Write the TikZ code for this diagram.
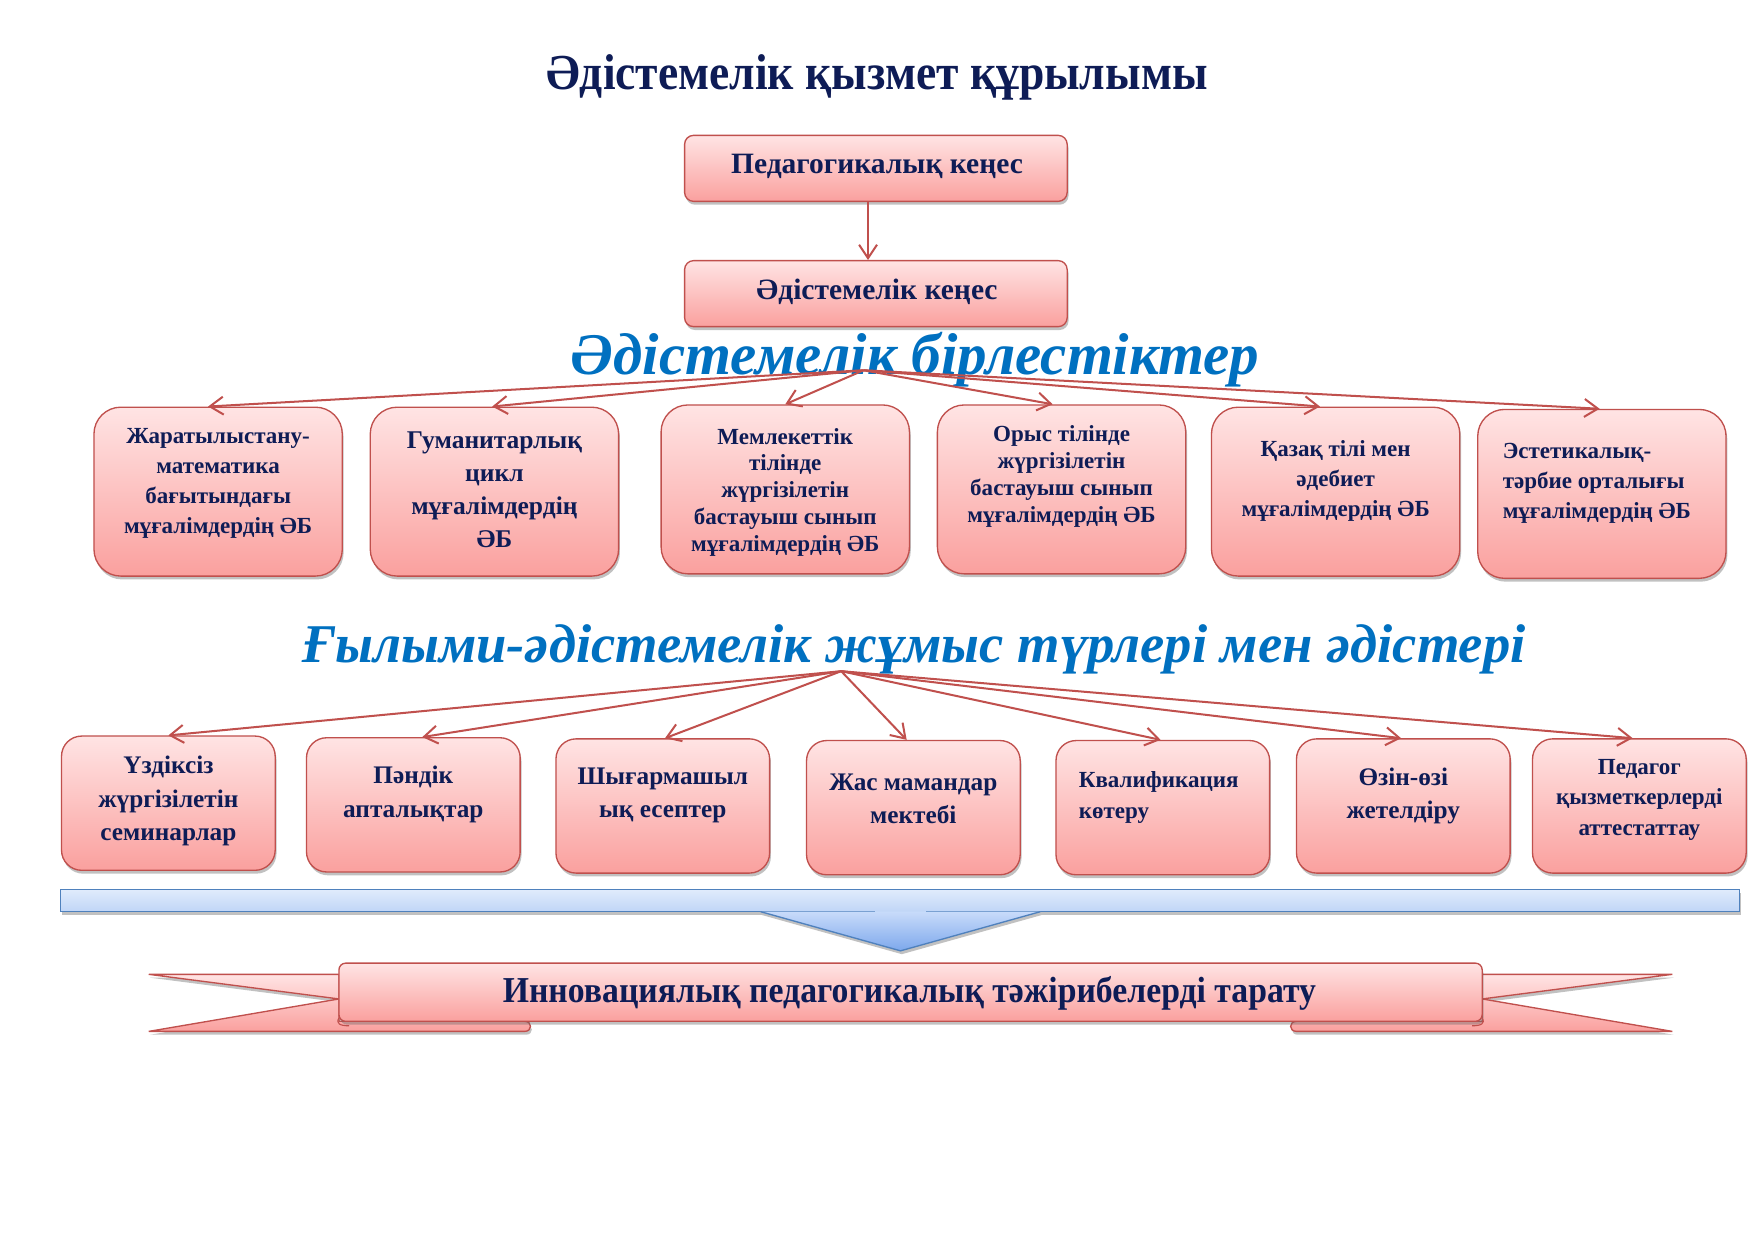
\documentclass[tikz,border=0pt]{standalone}
\usepackage{fontspec}
\setmainfont{Liberation Serif}
\usetikzlibrary{arrows.meta,shadows,calc}
\definecolor{navy}{RGB}{14,28,86}
\definecolor{hblue}{RGB}{0,112,192}
\definecolor{redln}{RGB}{192,80,77}
\definecolor{pinktop}{RGB}{255,228,228}
\definecolor{pinkbot}{RGB}{250,160,158}
\definecolor{bluetop}{RGB}{224,236,252}
\definecolor{bluebot}{RGB}{192,213,247}
\definecolor{tritop}{RGB}{200,219,250}
\definecolor{tribot}{RGB}{125,168,236}
\definecolor{blueln}{RGB}{79,129,189}
\begin{document}
\begin{tikzpicture}[x=0.5pt,y=-0.5pt,
  shad/.style={drop shadow={shadow xshift=0.6pt,shadow yshift=-1.5pt,opacity=0.4,fill=black!60}},
  pbox/.style={draw=redln,line width=0.6pt,top color=pinktop,bottom color=pinkbot,shad,inner sep=0pt},
  topbox/.style={pbox,rounded corners=4pt,minimum width=171pt,minimum height=29.5pt},
  rowone/.style={pbox,rounded corners=12pt,minimum width=111pt,minimum height=75.5pt},
  rowtwo/.style={pbox,rounded corners=9pt,minimum width=95.5pt,minimum height=60pt},
  btxt/.style={text=navy,align=center,inner sep=0pt,font=\bfseries\fontsize{10.3}{13.5}\selectfont},
  btxtb/.style={btxt,font=\bfseries\fontsize{11.4}{14.7}\selectfont},
  btxtc/.style={btxt,font=\bfseries\fontsize{10.3}{12}\selectfont},
  stxt/.style={btxt,font=\bfseries\fontsize{11.3}{15}\selectfont},
  heading/.style={text=hblue,inner sep=0pt,anchor=base,font=\bfseries\itshape\fontsize{26.4}{30}\selectfont},
  conn/.style={draw=redln,line width=0.9pt,-{Straight Barb[length=6pt,width=8pt,line width=0.9pt]}},
  ribfill/.style={draw=redln,line width=0.6pt,top color=pinktop,bottom color=pinkbot,shad},
]
\useasboundingbox (0,0) rectangle (1568,1109);
\fill[white] (0,0) rectangle (1568,1109);

% title
\node[text=navy,inner sep=0pt,anchor=base,font=\bfseries\fontsize{22.5}{26}\selectfont] (title) at (784,80) {\scalebox{0.905}[1]{Әдістемелік қызмет құрылымы}};

% top boxes
\node[topbox] (pk) at (783,150.5) {};
\node[btxt,font=\bfseries\fontsize{13.2}{16}\selectfont] (pkt) at (784,149) {Педагогикалық кеңес};
\node[topbox] (ak) at (783,262.5) {};
\node[btxt,font=\bfseries\fontsize{13.2}{16}\selectfont] (akt) at (784,261) {Әдістемелік кеңес};
\draw[conn] ([xshift=-3.5pt]pk.south) -- ([xshift=-3.5pt]ak.north);

% heading 1
\node[heading] (h1t) at (818,335) {Әдістемелік бірлестіктер};
\coordinate (hub1) at (772,331);

% row 1
\node[rowone] (b1) at (195,439.5) {};
\node[rowone] (b2) at (442,439.5) {};
\node[rowone] (b3) at (702,437.5) {};
\node[rowone] (b4) at (949,437.5) {};
\node[rowone] (b5) at (1194,439.5) {};
\node[rowone] (b6) at (1432,441.5) {};

\node[btxt] (b1t) at (195,432) {Жаратылыстану-\\математика\\бағытындағы\\мұғалімдердің ӘБ};
\node[btxtb] (b2t) at (442,438) {Гуманитарлық\\цикл\\мұғалімдердің\\ӘБ};
\node[btxtc] (b3t) at (702,440) {Мемлекеттік\\тілінде\\жүргізілетін\\бастауыш сынып\\мұғалімдердің ӘБ};
\node[btxtc] (b4t) at (949,426) {Орыс тілінде\\жүргізілетін\\бастауыш сынып\\мұғалімдердің ӘБ};
\node[btxt] (b5t) at (1194,430) {Қазақ тілі мен\\әдебиет\\мұғалімдердің ӘБ};
\node[btxt,align=left,anchor=west] (b6t) at (1343,432) {Эстетикалық-\\тәрбие орталығы\\мұғалімдердің ӘБ};

\draw[conn] (hub1) -- ([xshift=-4.5pt]b1.north);
\draw[conn] (hub1) -- ([xshift=-1pt]b2.north);
\draw[conn] (hub1) -- (b3.north);
\draw[conn] (hub1) -- ([xshift=-4pt]b4.north);
\draw[conn] (hub1) -- ([xshift=-7pt]b5.north);
\draw[conn] (hub1) -- ([xshift=-1pt]b6.north);

% heading 2
\node[heading,font=\bfseries\itshape\fontsize{24.4}{28}\selectfont] (h2t) at (817,592) {Ғылыми-әдістемелік жұмыс түрлері мен әдістері};
\coordinate (hub2) at (752,600);

% row 2
\node[rowtwo] (s1) at (150.5,718) {};
\node[rowtwo] (s2) at (369.5,719.5) {};
\node[rowtwo] (s3) at (592.5,720.5) {};
\node[rowtwo] (s4) at (816.5,722) {};
\node[rowtwo] (s5) at (1039.5,722) {};
\node[rowtwo] (s6) at (1254.5,720.5) {};
\node[rowtwo] (s7) at (1465.5,720.5) {};

\node[stxt] (s1t) at (150.5,716) {Үздіксіз\\жүргізілетін\\семинарлар};
\node[stxt] (s2t) at (369.5,710) {Пәндік\\апталықтар};
\node[stxt] (s3t) at (592.5,711) {Шығармашыл\\ық есептер};
\node[stxt] (s4t) at (816.5,714) {Жас мамандар\\мектебі};
\node[btxt,font=\bfseries\fontsize{10.3}{14}\selectfont,align=left,anchor=west] (s5t) at (964,713) {Квалификация\\көтеру};
\node[stxt] (s6t) at (1254.5,711.5) {Өзін-өзі\\жетелдіру};
\node[btxt] (s7t) at (1465.5,715) {Педагог\\қызметкерлерді\\аттестаттау};

\draw[conn] (hub2) -- (s1.north);
\draw[conn] (hub2) -- ([xshift=4pt]s2.north);
\draw[conn] (hub2) -- ([xshift=1pt]s3.north);
\draw[conn] (hub2) -- ([xshift=-3pt]s4.north);
\draw[conn] (hub2) -- ([xshift=-1pt]s5.north);
\draw[conn] (hub2) -- ([xshift=-1pt]s6.north);
\draw[conn] (hub2) -- ([xshift=-3pt]s7.north);

% blue bar with pointer
\path[top color=bluetop,bottom color=bluebot,shad] (54,795) rectangle (1555,815);
\draw[blueln,line width=0.6pt] (828,815) -- (1555,815) -- (1555,795) -- (54,795) -- (54,815) -- (782,815);
\path[top color=tritop,bottom color=tribot,shad] (680,815) -- (805,850) -- (930,815) -- cycle;
\draw[blueln,line width=0.6pt] (680,815) -- (805,850) -- (930,815);

% ribbon
\path[ribfill] (133,871) -- (303,871) -- (303,913) -- (469,913) .. controls (476,913) and (476,922) .. (469,922) -- (133,922) -- (303,893) -- cycle;
\path[ribfill] (1495,871) -- (1325,871) -- (1325,913) -- (1159,913) .. controls (1152,913) and (1152,922) .. (1159,922) -- (1495,922) -- (1325,893) -- cycle;
\path[ribfill,rounded corners=3pt] (303,913) -- (303,861) -- (1325,861) -- (1325,913) -- cycle;
\draw[redln,line width=0.5pt] (303,910) .. controls (300,915) and (304,917) .. (312,917);
\draw[redln,line width=0.5pt] (1325,910) .. controls (1328,915) and (1324,917) .. (1316,917);
\node[text=navy,inner sep=0pt,font=\bfseries\fontsize{16.3}{19}\selectfont] (rib) at (813,888) {\scalebox{0.925}[1]{Инновациялық педагогикалық тәжірибелерді тарату}};

\end{tikzpicture}
\end{document}
